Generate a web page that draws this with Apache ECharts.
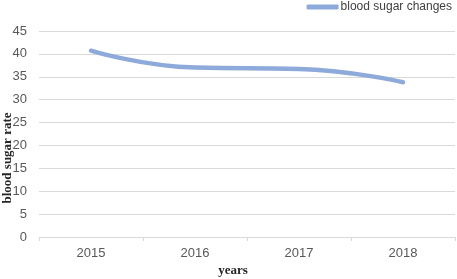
<!DOCTYPE html>
<html>
<head>
<meta charset="utf-8">
<script src="https://cdn.jsdelivr.net/npm/echarts@6/dist/echarts.min.js"></script>
<style>
  html, body { margin: 0; padding: 0; background: #fff; }
  #chart { width: 457px; height: 279px; }
</style>
</head>
<body>
<div id="chart"></div>
<script>
const years = ['2015', '2016', '2017', '2018'];
const sugarValues = [40.7, 37.0, 36.7, 33.8];
const seriesName = 'blood sugar changes';

const chart = echarts.init(document.getElementById('chart'));
chart.setOption({
  backgroundColor: '#fff',
  animation: false,
  legend: {
    data: [seriesName],
    right: 0,
    top: -4,
    icon: 'roundRect',
    itemWidth: 32,
    itemHeight: 5,
    itemGap: 2,
    textStyle: { color: '#404040', fontSize: 12, fontFamily: 'Liberation Sans', padding: [0, 0, 0, -3] }
  },
  grid: { left: 39, right: 2, top: 31, bottom: 42, outerBoundsMode: 'none', containLabel: false },
  xAxis: {
    type: 'category',
    data: years,
    name: 'years',
    nameLocation: 'middle',
    nameGap: 27,
    nameMoveOverlap: false,
    nameTextStyle: { color: '#262626', fontSize: 13, fontWeight: 'bold', fontFamily: 'Liberation Serif', padding: [0, 28, 0, 0] },
    axisLine: { lineStyle: { color: '#d9d9d9' } },
    axisTick: { show: true, length: 4, lineStyle: { color: '#d9d9d9' } },
    axisLabel: { color: '#595959', fontSize: 13, margin: 10, fontFamily: 'Liberation Sans' }
  },
  yAxis: {
    type: 'value',
    min: 0,
    max: 45,
    interval: 5,
    name: 'blood sugar rate',
    nameLocation: 'middle',
    nameGap: 25,
    nameMoveOverlap: false,
    nameTextStyle: { color: '#262626', fontSize: 13, fontWeight: 'bold', fontFamily: 'Liberation Serif', padding: [0, 48, 0, 0] },
    axisLine: { show: false },
    axisTick: { show: false },
    splitLine: { lineStyle: { color: '#d9d9d9' } },
    axisLabel: { color: '#595959', fontSize: 13, margin: 12, fontFamily: 'Liberation Sans' }
  },
  series: [
    {
      name: seriesName,
      type: 'line',
      data: sugarValues,
      smooth: true,
      showSymbol: false,
      symbol: 'none',
      lineStyle: { width: 4.5, color: '#8eaadb', cap: 'round' },
      itemStyle: { color: '#8eaadb' }
    }
  ]
});
</script>
</body>
</html>
